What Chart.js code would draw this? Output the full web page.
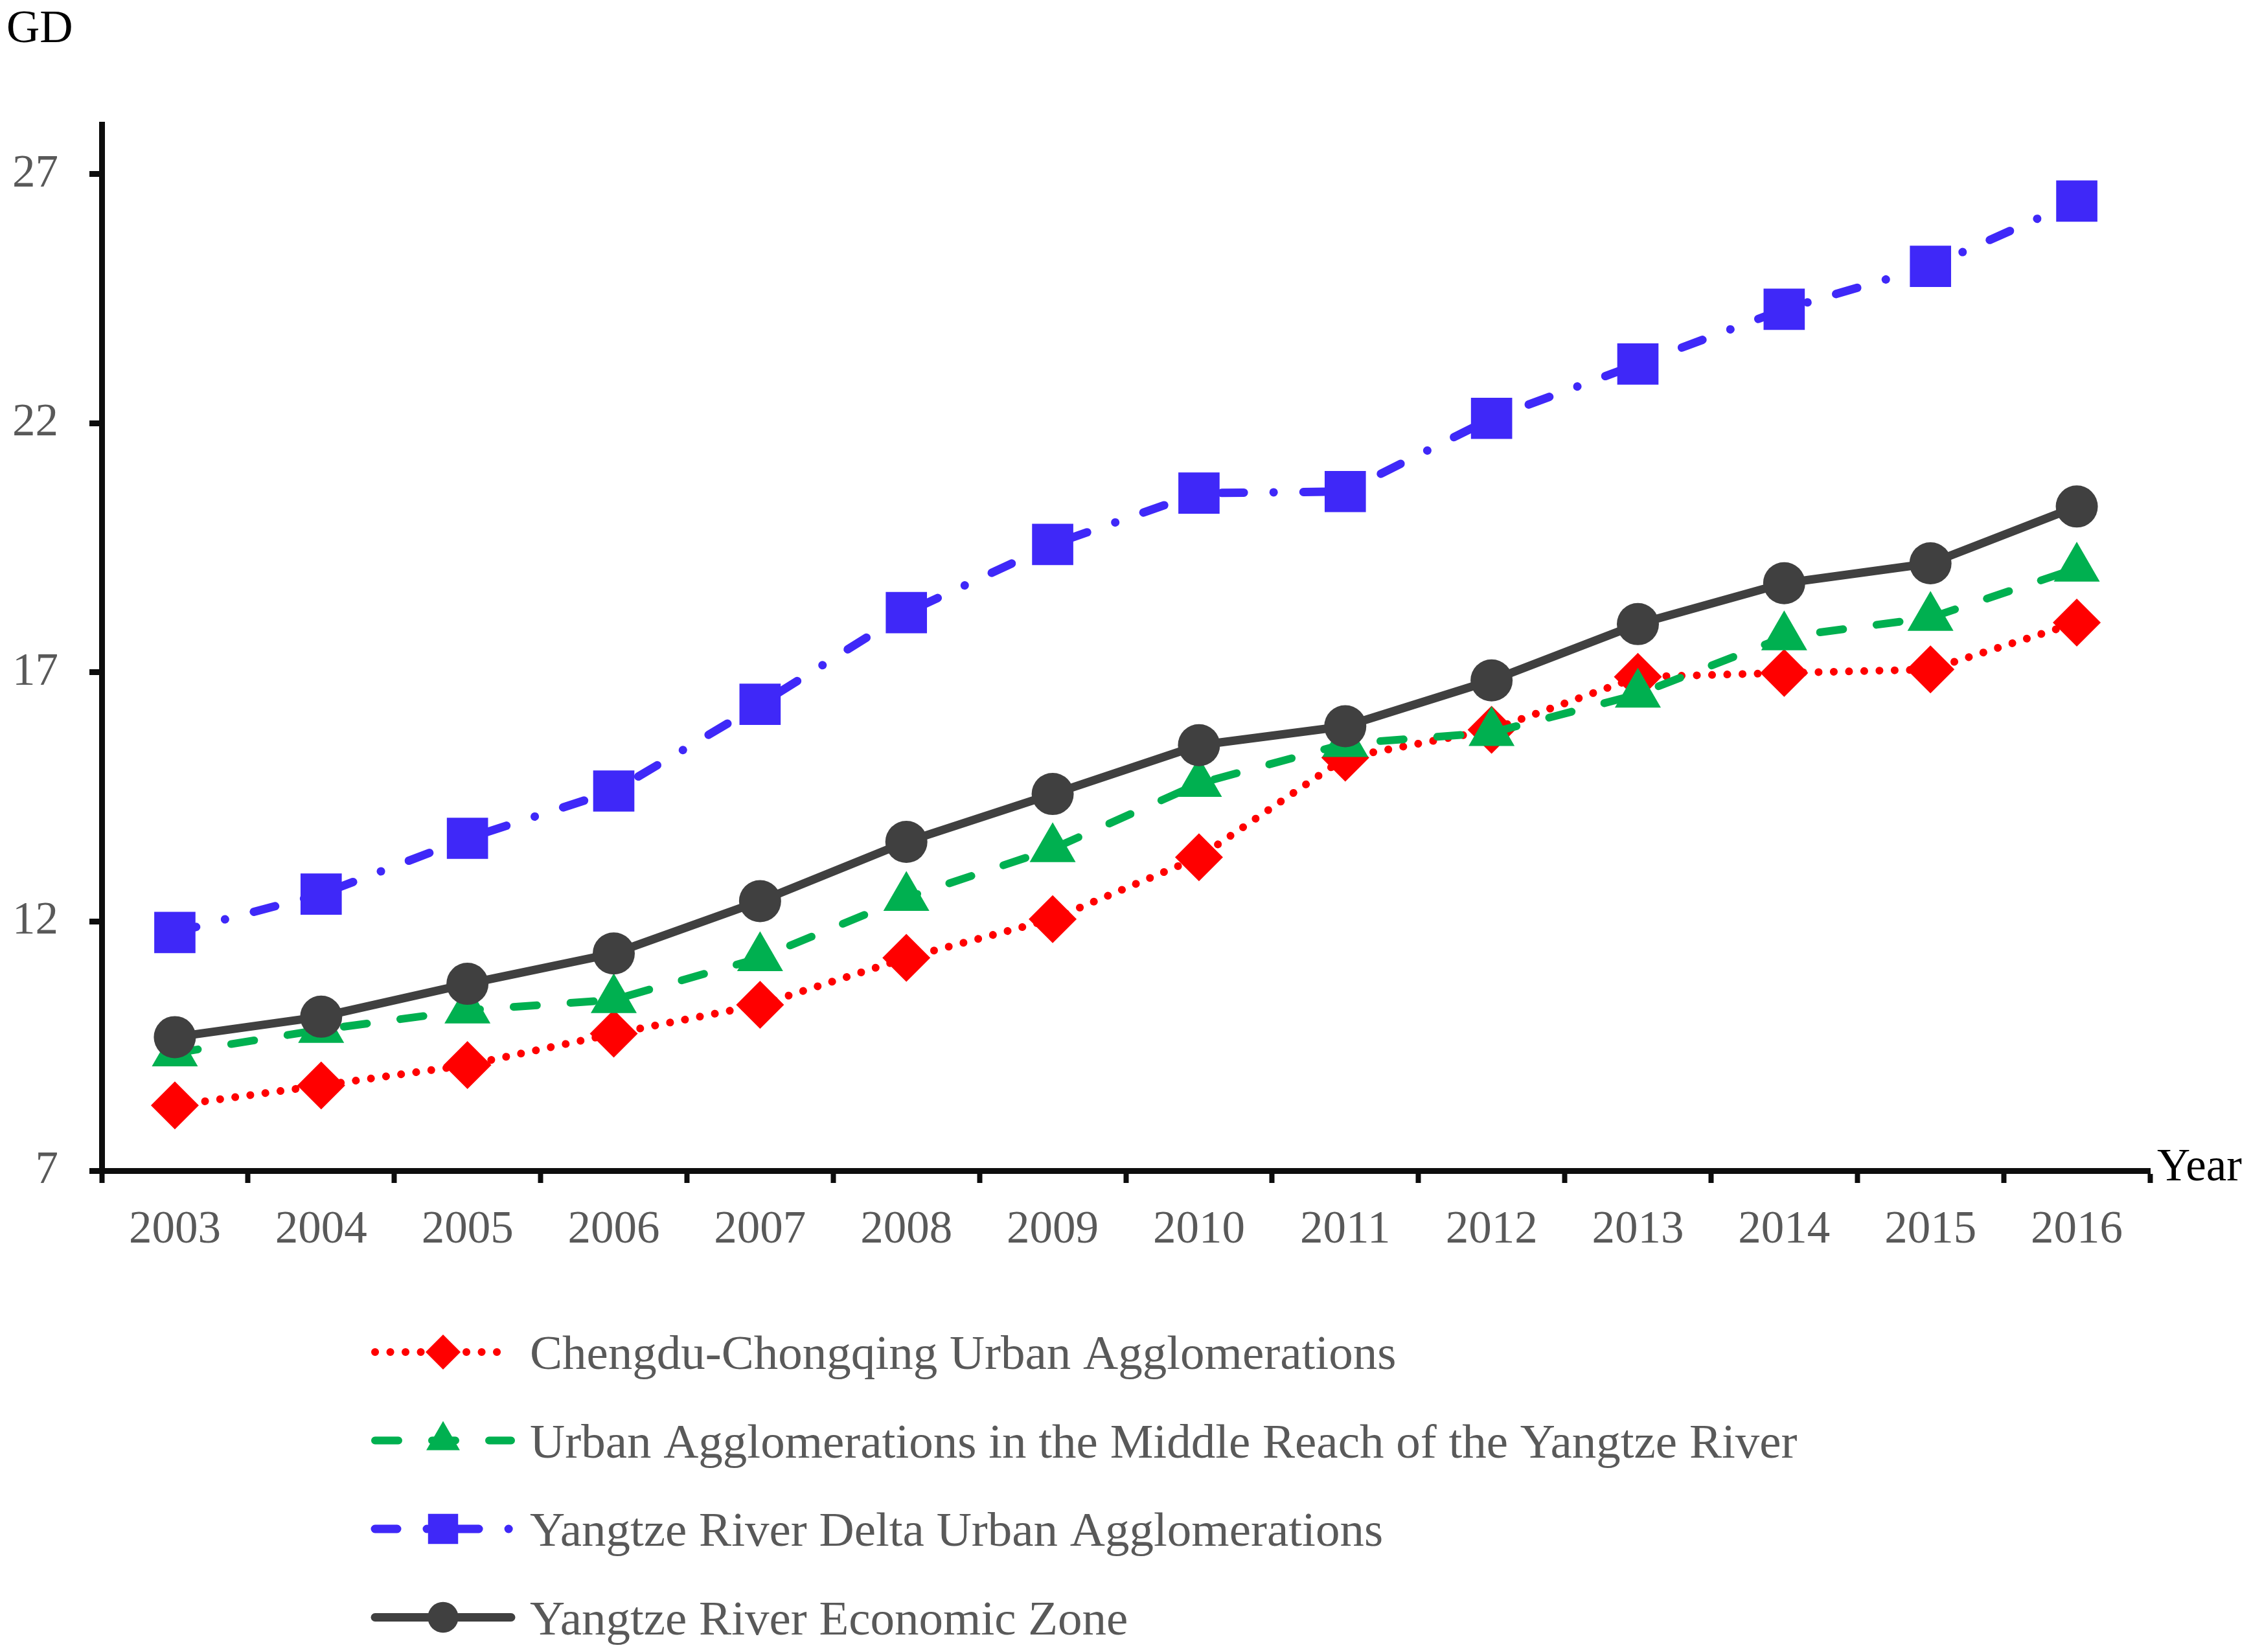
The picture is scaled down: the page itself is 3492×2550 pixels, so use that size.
<!DOCTYPE html>
<html>
<head>
<meta charset="utf-8">
<title>GD by year</title>
<script src="https://cdn.jsdelivr.net/npm/chart.js@4.4.1/dist/chart.umd.min.js"></script>
<style>
    html, body { margin: 0; padding: 0; background: #fff; }
    #wrap { width: 3492px; height: 2550px; }
</style>
</head>
<body>
<div id="wrap"><canvas id="gdChart" width="3492" height="2550"></canvas></div>
<script>
const years = ["2003", "2004", "2005", "2006", "2007", "2008", "2009", "2010", "2011", "2012", "2013", "2014", "2015", "2016"];
const chengduChongqing = [8.31, 8.71, 9.12, 9.75, 10.33, 11.27, 12.05, 13.29, 15.29, 15.85, 16.91, 16.99, 17.06, 18.00];
const middleReach = [9.36, 9.83, 10.22, 10.43, 11.27, 12.48, 13.46, 14.77, 15.57, 15.79, 16.56, 17.71, 18.10, 19.09];
const riverDelta = [11.78, 12.55, 13.67, 14.62, 16.36, 18.20, 19.57, 20.60, 20.63, 22.10, 23.19, 24.29, 25.15, 26.46];
const economicZone = [9.68, 10.09, 10.75, 11.36, 12.41, 13.60, 14.56, 15.54, 15.92, 16.84, 17.97, 18.79, 19.19, 20.33];
const yTicks = [7, 12, 17, 22, 27];
const seriesNames = [
    "Chengdu-Chongqing Urban Agglomerations",
    "Urban Agglomerations in the Middle Reach of the Yangtze River",
    "Yangtze River Delta Urban Agglomerations",
    "Yangtze River Economic Zone"
];

document.addEventListener("DOMContentLoaded", function () {
    const FONT = '"Liberation Serif", "Times New Roman", serif';
    const TICK_GREY = "#595959";
    const AXIS = "#0d0d0d";

    // legend drawn one entry per row, like the original figure
    const rowLegend = {
        id: "rowLegend",
        afterDraw(chart) {
            const ctx = chart.ctx;
            const area = chart.chartArea;
            ctx.save();

            ctx.font = "71px " + FONT;
            ctx.fillStyle = "#000";
            ctx.textAlign = "left";
            ctx.textBaseline = "alphabetic";
            ctx.fillText("GD", 10, area.top - 127);
            ctx.fillText("Year", area.right + 11, area.bottom + 15);

            chart.data.datasets.forEach((ds, i) => {
                const y = area.bottom + 280 + i * 136.5;
                const x0 = 579, x1 = 789, xm = 684;

                ctx.strokeStyle = ds.borderColor;
                ctx.lineWidth = ds.borderWidth;
                ctx.lineCap = ds.borderCapStyle;
                ctx.setLineDash(ds.borderDash);
                ctx.beginPath();
                ctx.moveTo(x0, y);
                ctx.lineTo(x1, y);
                ctx.stroke();
                ctx.setLineDash([]);

                ctx.fillStyle = ds.pointBackgroundColor;
                Chart.helpers.drawPoint(ctx, {
                    pointStyle: ds.pointStyle,
                    radius: ds.pointRadius * 0.73,
                    rotation: 0,
                    borderWidth: 0
                }, xm, y);

                ctx.fillStyle = TICK_GREY;
                ctx.font = "75px " + FONT;
                ctx.fillText(ds.label, 818, y + 26);
            });
            ctx.restore();
        }
    };

    const ctx = document.getElementById("gdChart");

    new Chart(ctx, {
        type: "line",
        data: {
            labels: years,
            datasets: [{
                label: seriesNames[0],
                data: chengduChongqing,
                borderColor: "#ff0000",
                pointBackgroundColor: "#ff0000",
                borderWidth: 12,
                borderDash: [0.1, 23.4],
                borderCapStyle: "round",
                pointStyle: "rectRot",
                pointRadius: 37,
                pointBorderWidth: 0,
                order: 4
            }, {
                label: seriesNames[1],
                data: middleReach,
                borderColor: "#00b050",
                pointBackgroundColor: "#00b050",
                borderWidth: 12,
                borderDash: [36, 52],
                borderCapStyle: "round",
                pointStyle: "triangle",
                pointRadius: 41,
                pointBorderWidth: 0,
                order: 3
            }, {
                label: seriesNames[2],
                data: riverDelta,
                borderColor: "#3f28f8",
                pointBackgroundColor: "#3f28f8",
                borderWidth: 13,
                borderDash: [34, 46, 0.1, 46],
                borderCapStyle: "round",
                pointStyle: "rect",
                pointRadius: 45,
                pointBorderWidth: 0,
                order: 2
            }, {
                label: seriesNames[3],
                data: economicZone,
                borderColor: "#404040",
                pointBackgroundColor: "#404040",
                borderWidth: 13,
                borderDash: [],
                borderCapStyle: "round",
                pointStyle: "circle",
                pointRadius: 32.5,
                pointBorderWidth: 0,
                order: 1
            }]
        },
        options: {
            responsive: false,
            animation: false,
            devicePixelRatio: 1,
            layout: {
                padding: { top: 192, right: 173, bottom: 600, left: 0 }
            },
            elements: {
                line: { tension: 0, borderJoinStyle: "round" }
            },
            plugins: {
                legend: { display: false },
                tooltip: { enabled: false }
            },
            scales: {
                x: {
                    offset: true,
                    afterFit: axis => { axis.height = 143; },
                    grid: {
                        offset: true,
                        drawOnChartArea: false,
                        drawTicks: true,
                        tickLength: 19,
                        tickWidth: 8,
                        tickColor: AXIS
                    },
                    border: { display: true, color: AXIS, width: 9 },
                    ticks: {
                        color: TICK_GREY,
                        padding: 31,
                        maxRotation: 0,
                        autoSkip: false,
                        font: { family: FONT, size: 71 }
                    }
                },
                y: {
                    min: 7,
                    max: 28,
                    afterFit: axis => { axis.width = 157; },
                    afterBuildTicks: axis => {
                        axis.ticks = yTicks.map(v => ({ value: v }));
                    },
                    grid: {
                        drawOnChartArea: false,
                        drawTicks: true,
                        tickLength: 19,
                        tickWidth: 9,
                        tickColor: AXIS
                    },
                    border: { display: true, color: AXIS, width: 9 },
                    ticks: {
                        color: TICK_GREY,
                        padding: 48,
                        font: { family: FONT, size: 71 }
                    }
                }
            }
        },
        plugins: [rowLegend]
    });
});
</script>
</body>
</html>
